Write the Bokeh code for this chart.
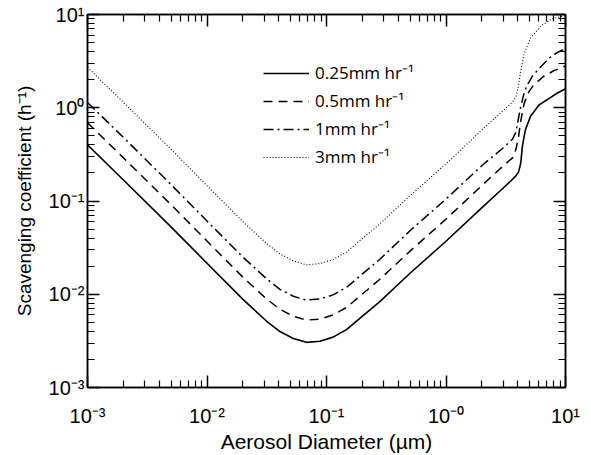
from bokeh.plotting import figure
from bokeh.models import (FixedTicker, CustomJSTickFormatter, LogAxis, Legend,
                          LegendItem, Range1d)
from bokeh.embed import file_html
from bokeh.resources import INLINE

# ---------------- data ----------------
x_tick_values = [0.001, 0.01, 0.1, 1.0, 10.0]
x_tick_labels = ["10⁻³", "10⁻²", "10⁻¹", "10⁻⁰", "10¹"]
y_tick_values = [0.001, 0.01, 0.1, 1.0, 10.0]
y_tick_labels = ["10⁻³", "10⁻²", "10⁻¹", "10⁰", "10¹"]

series_labels = ["0.25mm hr⁻¹", "0.5mm hr⁻¹", "1mm hr⁻¹", "3mm hr⁻¹"]

x_title = "Aerosol Diameter (µm)"
y_title = "Scavenging coefficient (h⁻¹)"

# 0.25 mm/hr (solid)
d_025 = [0.001, 0.002, 0.005, 0.01, 0.02, 0.0316, 0.0408, 0.0527, 0.068, 0.088,
         0.1135, 0.147, 0.2, 0.278, 0.5, 1.0, 2.0, 3.0, 3.5, 3.83, 4.05, 4.22,
         4.35, 4.5, 4.64, 5.1, 6.0, 7.3, 8.5, 10.0]
s_025 = [0.40, 0.168, 0.0528, 0.0215, 0.0088, 0.00513, 0.00398, 0.00335, 0.00305, 0.00313,
         0.00347, 0.00417, 0.00582, 0.0083, 0.0168, 0.037, 0.085, 0.137, 0.165, 0.185, 0.205, 0.254,
         0.378, 0.49, 0.59, 0.81, 1.07, 1.26, 1.43, 1.6]

# 0.5 mm/hr (dashed)
d_05 = [0.001, 0.002, 0.005, 0.01, 0.02, 0.0316, 0.0408, 0.0527, 0.068, 0.088,
        0.1135, 0.147, 0.2, 0.278, 0.5, 1.0, 2.0, 3.0, 3.6, 3.85, 4.03, 4.22,
        4.5, 4.8, 5.4, 6.5, 8.0, 10.0]
s_05 = [0.69, 0.29, 0.0913, 0.0372, 0.0152, 0.00888, 0.00689, 0.0058, 0.00528, 0.00542,
        0.0060, 0.00721, 0.01007, 0.0144, 0.029, 0.064, 0.147, 0.237, 0.29, 0.36, 0.47, 0.72,
        1.1, 1.4, 1.75, 2.15, 2.5, 2.8]

# 1 mm/hr (dash-dot)
d_1 = [0.001, 0.002, 0.005, 0.01, 0.02, 0.0316, 0.0408, 0.0527, 0.068, 0.088,
       0.1135, 0.147, 0.2, 0.278, 0.5, 1.0, 2.0, 3.0, 3.6, 3.85, 4.0, 4.22,
       4.45, 4.7, 5.3, 6.0, 7.3, 8.5, 10.0]
s_1 = [1.14, 0.48, 0.15, 0.061, 0.025, 0.0146, 0.0113, 0.00951, 0.00866, 0.00889,
       0.00985, 0.01184, 0.01653, 0.0236, 0.048, 0.105, 0.24, 0.37, 0.46, 0.55, 0.72, 1.03,
       1.35, 1.68, 2.2, 2.62, 3.4, 3.9, 4.3]

# 3 mm/hr (dotted)
d_3 = [0.001, 0.002, 0.005, 0.01, 0.02, 0.0316, 0.0408, 0.0527, 0.068, 0.088,
       0.1135, 0.147, 0.2, 0.278, 0.5, 1.0, 2.0, 3.0, 3.6, 3.85, 4.0, 4.22,
       4.5, 5.1, 6.2, 7.7, 10.0]
s_3 = [2.72, 1.14, 0.359, 0.146, 0.060, 0.0349, 0.0271, 0.0228, 0.0207, 0.0213,
       0.0236, 0.0284, 0.0396, 0.0564, 0.114, 0.25, 0.58, 0.93, 1.15, 1.32, 1.6, 2.5,
       3.76, 5.6, 7.5, 9.0, 9.8]

# ---------------- figure ----------------
minor_tick_values = [m * 10.0 ** e for e in range(-3, 1) for m in range(2, 10)]

p = figure(width=591, height=455, x_axis_type="log", y_axis_type="log",
           x_range=Range1d(0.001, 10.0), y_range=Range1d(0.001, 10.0),
           output_backend="svg", toolbar_location=None,
           min_border_left=87, min_border_right=26, min_border_top=14,
           min_border_bottom=68)
p.xgrid.visible = False
p.ygrid.visible = False
p.outline_line_color = "black"
p.outline_line_width = 1.5
p.background_fill_color = "white"
p.border_fill_color = "white"

fmt_code = """
for (let i = 0; i < vals.length; i++) {
  if (Math.abs(Math.log10(vals[i]) - Math.log10(tick)) < 1e-6) { return labels[i]; }
}
return "";
"""


def style_axis(ax):
    ax.major_tick_in = 12
    ax.major_tick_out = 0
    ax.minor_tick_in = 7
    ax.minor_tick_out = 0
    ax.axis_line_color = "black"
    ax.axis_line_width = 1.5
    ax.major_tick_line_color = "black"
    ax.major_tick_line_width = 1.5
    ax.minor_tick_line_color = "black"
    ax.minor_tick_line_width = 1.2
    ax.major_label_text_font = "Liberation Sans"
    ax.major_label_text_font_size = "20px"
    ax.major_label_text_color = "black"
    ax.axis_label_text_font = "Liberation Sans"
    ax.axis_label_text_font_style = "normal"
    ax.axis_label_text_color = "black"


xax = p.xaxis[0]
xax.ticker = FixedTicker(ticks=x_tick_values, minor_ticks=minor_tick_values)
xax.formatter = CustomJSTickFormatter(args=dict(vals=x_tick_values, labels=x_tick_labels), code=fmt_code)
style_axis(xax)
xax.major_label_standoff = 17
xax.axis_label = x_title
xax.axis_label_text_font_size = "21px"
xax.axis_label_standoff = 0

yax = p.yaxis[0]
yax.ticker = FixedTicker(ticks=y_tick_values, minor_ticks=minor_tick_values)
yax.formatter = CustomJSTickFormatter(args=dict(vals=y_tick_values, labels=y_tick_labels), code=fmt_code)
style_axis(yax)
yax.major_label_standoff = 3
yax.axis_label = y_title
yax.axis_label_text_font_size = "19px"
yax.axis_label_standoff = 11

top_ax = LogAxis(ticker=FixedTicker(ticks=x_tick_values, minor_ticks=minor_tick_values))
style_axis(top_ax)
top_ax.major_label_text_font_size = "1px"
top_ax.major_label_text_alpha = 0
top_ax.major_label_standoff = 0
p.add_layout(top_ax, "above")

right_ax = LogAxis(ticker=FixedTicker(ticks=y_tick_values, minor_ticks=minor_tick_values))
style_axis(right_ax)
right_ax.major_label_text_font_size = "1px"
right_ax.major_label_text_alpha = 0
right_ax.major_label_standoff = 0
p.add_layout(right_ax, "right")

# ---------------- curves ----------------
r1 = p.line(d_025, s_025, line_color="black", line_width=1.6)
r2 = p.line(d_05, s_05, line_color="black", line_width=1.5, line_dash="9 6")
r3 = p.line(d_1, s_1, line_color="black", line_width=1.5, line_dash="10 4 2 4")
r4 = p.line(d_3, s_3, line_color="black", line_width=1.1, line_dash="1 2")

legend = Legend(items=[LegendItem(label=series_labels[0], renderers=[r1]),
                       LegendItem(label=series_labels[1], renderers=[r2]),
                       LegendItem(label=series_labels[2], renderers=[r3]),
                       LegendItem(label=series_labels[3], renderers=[r4])],
                location=(176, 219), glyph_width=46, glyph_height=20,
                label_height=20, spacing=5, padding=0, margin=0,
                border_line_alpha=0, background_fill_alpha=0,
                label_text_font="Open Sans", label_text_font_size="17px",
                label_text_color="black", label_standoff=6)
p.add_layout(legend)

open("out.html", "w").write(file_html(p, INLINE))
